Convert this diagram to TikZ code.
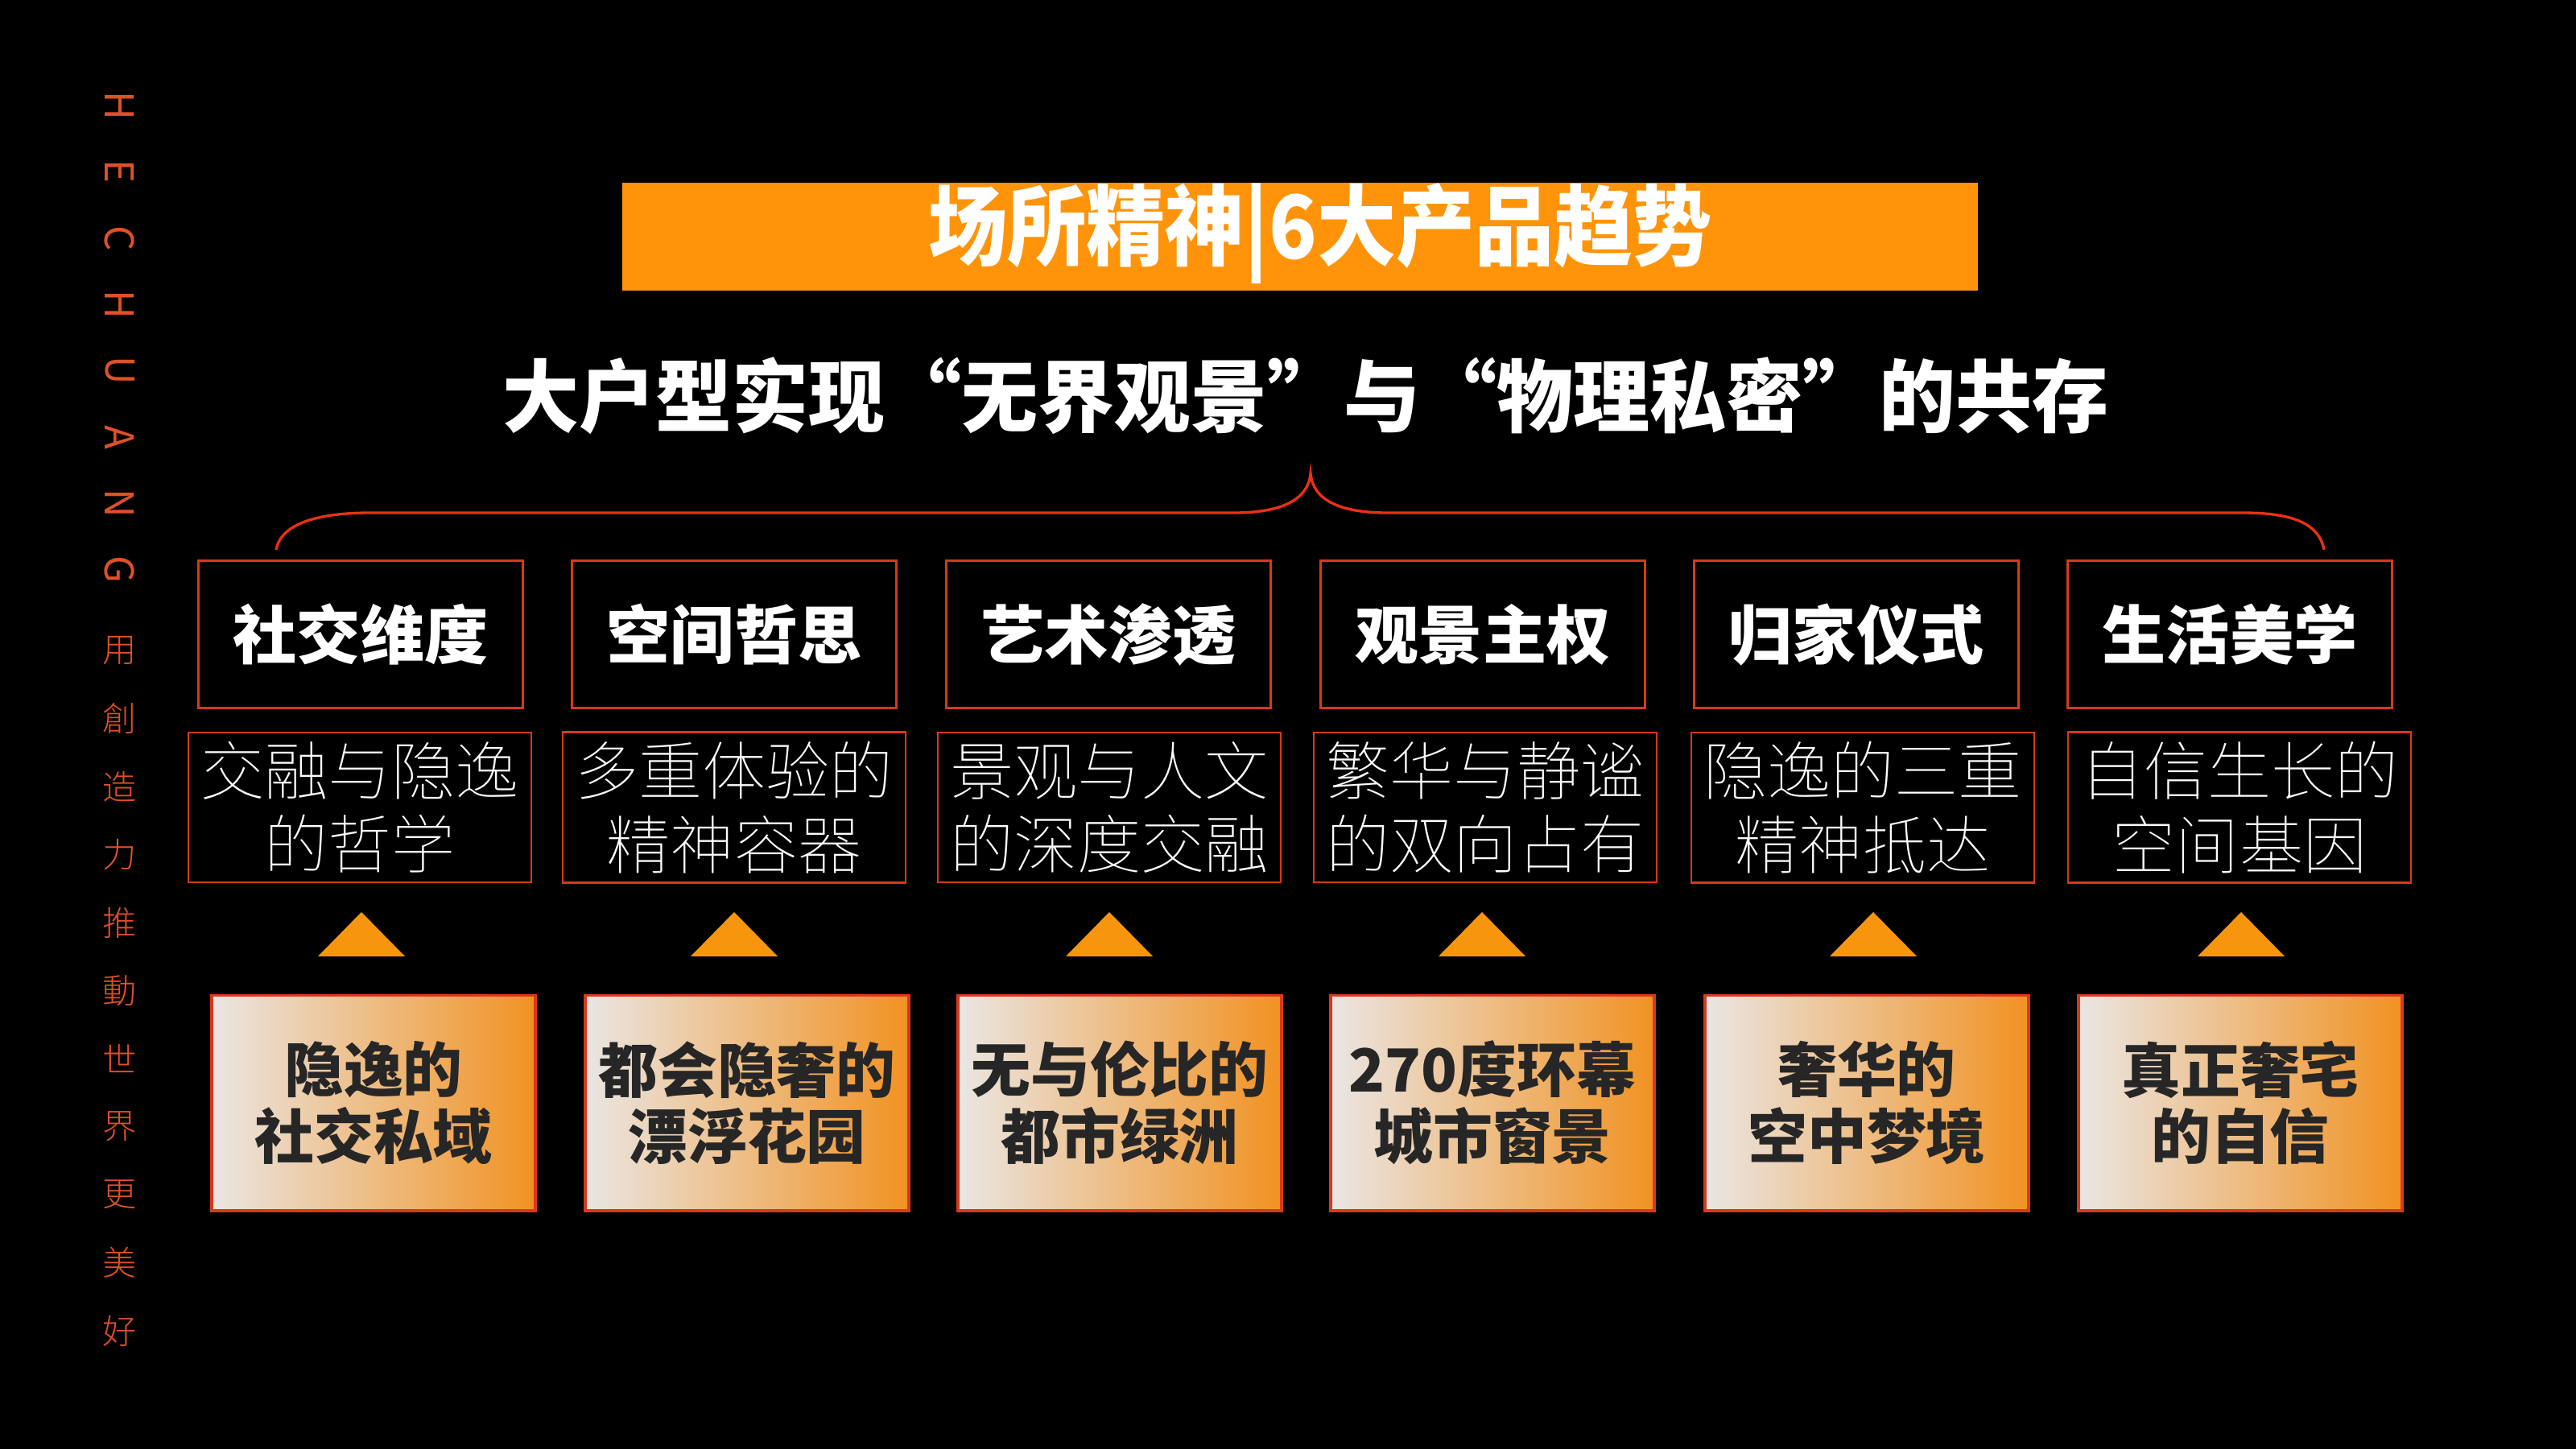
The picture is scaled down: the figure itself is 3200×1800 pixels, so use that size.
\documentclass[tikz,border=0pt]{standalone}
\usepackage{fontspec}
\usepackage{tikz}
\usetikzlibrary{positioning,calc}
\setmainfont{Noto Sans CJK SC}
\newfontfamily\heavyfont{Noto Sans CJK SC Black}
\newfontfamily\boldfont{Noto Sans CJK SC Bold}
\newfontfamily\lightfont{Noto Sans CJK SC Light}
\newfontfamily\thinfont{Noto Sans CJK SC Thin}
\definecolor{hcorange}{RGB}{255,148,10}
\definecolor{hcred}{RGB}{216,56,28}
\definecolor{hcline}{RGB}{236,48,20}
\definecolor{hctri}{RGB}{247,150,14}
\definecolor{hcsand}{RGB}{234,230,228}
\definecolor{hcamber}{RGB}{241,146,34}
\definecolor{hcink}{RGB}{38,38,38}
\definecolor{hcside}{RGB}{224,80,40}
\tikzset{
  topbox/.style={draw=hcred, line width=0.85pt, minimum width=4.02cm, minimum height=1.82cm,
    text=white, font=\heavyfont\fontsize{22.5}{26}\selectfont},
  midbox/.style={draw=hcred, line width=0.6pt, minimum width=4.25cm, minimum height=1.86cm,
    text=white, align=center, font=\thinfont\fontsize{22.5}{26}\selectfont},
  basebox/.style={draw=hcred, line width=1.1pt, minimum width=4.02cm, minimum height=2.67cm,
    left color=hcsand, right color=hcamber, text=hcink, align=center,
    font=\heavyfont\fontsize{21}{23.5}\selectfont},
  sidetxt/.style={text=hcside, font=\lightfont\fontsize{12}{12}\selectfont},
  sidelat/.style={text=hcside, font=\fontsize{14}{14}\selectfont},
}
\begin{document}
\begin{tikzpicture}[x=0.01cm, y=-0.01cm]
  % fond
  \fill[black] (0,0) rectangle (3200,1800);
  \useasboundingbox (0,0) rectangle (3200,1800);
  % bandeau lateral
  \foreach \c [count=\i from 0] in {H,E,C,H,U,A,N,G}
    \node[sidelat, rotate=-90] (s\i) at (149,131+82.4*\i) {\c};
  \foreach \c [count=\i from 0] in {用,創,造,力,推,動,世,界,更,美,好}
    \node[sidetxt] (k\i) at (149,808+84.5*\i) {\c};
  % titre
  \fill[hcorange] (773,227) rectangle (2457,361);
  \node[text=white, font=\heavyfont\fontsize{31}{34}\selectfont] (title) at (1640,290)
    {\scalebox{0.9}[1]{场所精神|6大产品趋势}};
  \node[text=white, font=\heavyfont\fontsize{28}{32}\selectfont] (subtitle) at (1622,492)
    {\scalebox{0.965}[1]{大户型实现“无界观景”与“物理私密”的共存}};
  % accolade
  \draw[hcline, line width=0.95pt]
    (343,683) .. controls (350,645) and (410,637) .. (460,637) -- (1533,637)
    .. controls (1590,637) and (1625,622) .. (1628,588)
    .. controls (1631,622) and (1666,637) .. (1723,637) -- (2786,637)
    .. controls (2836,637) and (2880,645) .. (2887,683);
  % colonnes
  \foreach \i/\tx/\mx/\rx/\bx/\head/\body/\foot in {
    1/448/447/449/464/社交维度/{交融与隐逸\\的哲学}/{隐逸的\\社交私域},
    2/912/912/912/928/空间哲思/{多重体验的\\精神容器}/{都会隐奢的\\漂浮花园},
    3/1377/1378/1378/1391/艺术渗透/{景观与人文\\的深度交融}/{无与伦比的\\都市绿洲},
    4/1842/1845/1841/1854/观景主权/{繁华与静谧\\的双向占有}/{270度环幕\\城市窗景},
    5/2306/2314/2327/2319/归家仪式/{隐逸的三重\\精神抵达}/{奢华的\\空中梦境},
    6/2770/2782/2784/2783/生活美学/{自信生长的\\空间基因}/{真正奢宅\\的自信}}
  {
    \node[topbox] (t\i) at (\tx,788) {\head};
    \node[midbox] (m\i) at (\mx,1003) {\body};
    \fill[hctri] (\rx-54,1188) -- (\rx,1133) -- (\rx+54,1188) -- cycle;
    \node[basebox] (b\i) at (\bx,1370) {\foot};
  }
\end{tikzpicture}
\end{document}
